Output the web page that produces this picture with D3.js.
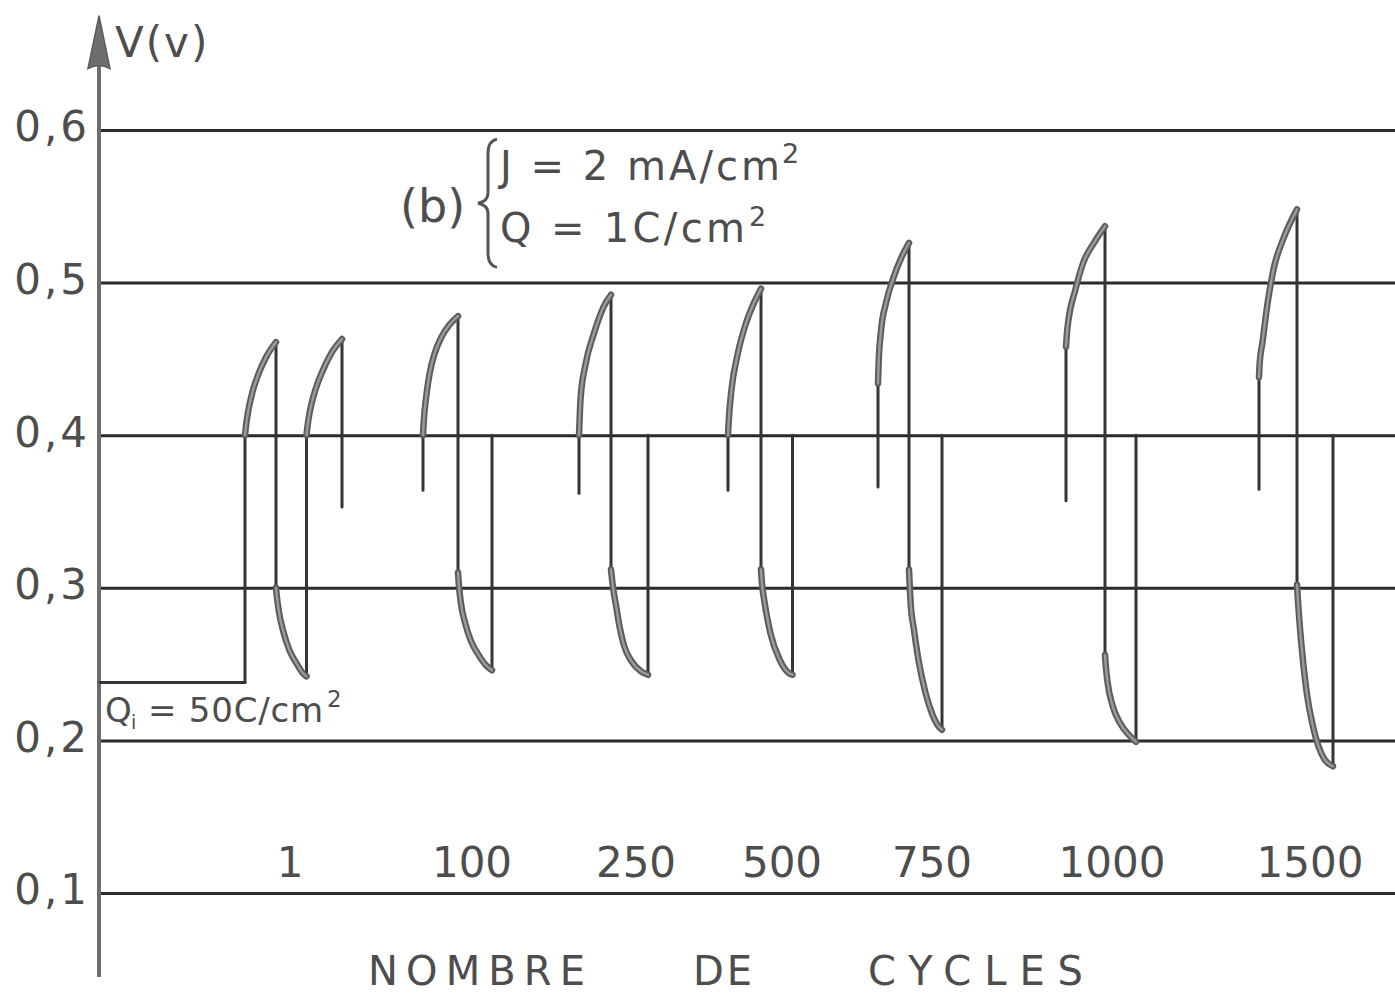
<!DOCTYPE html>
<html>
<head>
<meta charset="utf-8">
<script src="https://cdn.jsdelivr.net/npm/d3@7"></script>
<style>
  html, body { margin: 0; padding: 0; background: #ffffff; }
  svg { display: block; }
  text { font-family: "DejaVu Sans", "Noto Sans", sans-serif; fill: #4d4d4d; }
</style>
</head>
<body>
<svg id="chart" width="1395" height="995"></svg>
<script>
// ---- data -------------------------------------------------------------
const yTicks = [0.1, 0.2, 0.3, 0.4, 0.5, 0.6];
const yTickLabels = ["0,1", "0,2", "0,3", "0,4", "0,5", "0,6"];

const cycleLabels = ["1", "100", "250", "500", "750", "1000", "1500"];
const cycleLabelT = [38, 74.4, 107.2, 136.4, 166.4, 202.4, 242];

// Potential traces [time, V]; equal consecutive times are the vertical jumps
const traceCycle1 = [
  [0, 0.238], [29, 0.238], [29, 0.400],
  [29.2, 0.406], [29.6, 0.415], [30.55, 0.429], [31.8, 0.441], [33.35, 0.452], [35.2, 0.461],
  [35.2, 0.300],
  [35.38, 0.294], [35.8, 0.284], [36.7, 0.271], [37.9, 0.259], [39.4, 0.250], [40.6, 0.244], [41.3, 0.242],
  [41.3, 0.400],
  [41.5, 0.406], [42.0, 0.416], [43.1, 0.430], [44.5, 0.442], [46.3, 0.454], [48.4, 0.463],
  [48.4, 0.353]
];
const traceCycle100 = [
  [64.6, 0.364], [64.6, 0.400],
  [64.74, 0.4086], [65.26, 0.4257], [65.93, 0.4406], [66.91, 0.4534], [68.24, 0.464], [69.92, 0.4725], [71.6, 0.478],
  [71.6, 0.310],
  [71.74, 0.3033], [72.19, 0.2898], [73.08, 0.2763], [74.18, 0.2652], [75.68, 0.2562], [77.14, 0.2494], [78.4, 0.246],
  [78.4, 0.400]
];
const traceCycle250 = [
  [95.8, 0.362], [95.8, 0.400],
  [95.93, 0.411], [96.12, 0.4244], [97.12, 0.4466], [98.77, 0.4665], [100.74, 0.4843], [102.2, 0.492],
  [102.2, 0.312],
  [102.57, 0.301], [103.24, 0.2878], [103.9, 0.2747], [104.86, 0.2616], [106.27, 0.252], [108.26, 0.2451], [109.6, 0.243],
  [109.6, 0.400]
];
const traceCycle500 = [
  [125.6, 0.364], [125.6, 0.400],
  [125.73, 0.4086], [126.26, 0.4288], [127.51, 0.4528], [129.16, 0.473], [130.75, 0.4864], [132.2, 0.496],
  [132.2, 0.312],
  [132.39, 0.303], [132.82, 0.2923], [134.06, 0.2706], [135.92, 0.2529], [137.78, 0.2441], [138.5, 0.243],
  [138.5, 0.400]
];
const traceCycle750 = [
  [155.6, 0.366], [155.6, 0.434],
  [155.72, 0.4469], [156.22, 0.469], [157.18, 0.4864], [158.76, 0.5039], [160.34, 0.5168], [161.8, 0.526],
  [161.8, 0.312],
  [162.13, 0.290], [162.79, 0.2726], [163.78, 0.2511], [165.1, 0.2312], [166.42, 0.2175], [167.74, 0.2091], [168.4, 0.207],
  [168.4, 0.400]
];
const traceCycle1000 = [
  [193.2, 0.357], [193.2, 0.458],
  [193.36, 0.4659], [193.72, 0.4762], [195.02, 0.4947], [196.64, 0.513], [198.92, 0.5267], [201.0, 0.537],
  [201.0, 0.256],
  [201.12, 0.2503], [201.5, 0.2383], [202.55, 0.2224], [203.98, 0.2115], [205.78, 0.2036], [207.2, 0.199],
  [207.2, 0.400]
];
const traceCycle1500 = [
  [231.8, 0.3645], [231.8, 0.438],
  [231.95, 0.4479], [232.46, 0.460], [233.45, 0.485], [234.76, 0.5095], [236.74, 0.5293], [239.4, 0.548],
  [239.4, 0.302],
  [239.62, 0.2901], [240.25, 0.2639], [241.31, 0.232], [242.71, 0.2075], [244.84, 0.1879], [246.6, 0.183],
  [246.6, 0.400]
];
const traces = [traceCycle1, traceCycle100, traceCycle250, traceCycle500, traceCycle750, traceCycle1000, traceCycle1500];

// ---- scales -----------------------------------------------------------
const svg = d3.select("#chart");
const x = d3.scaleLinear().domain([0, 259]).range([100, 1395]);
const y = d3.scaleLinear().domain([0.1, 0.6]).range([893, 130]);
const axisExtent = [0.045, 0.675];

// ---- grid + tick labels ----------------------------------------------
const yAxis = d3.axisLeft(y)
  .tickValues(yTicks)
  .tickFormat((d, i) => yTickLabels[i])
  .tickSize(-(x(259) - x(0)))
  .tickPadding(10);

const gy = svg.append("g")
  .attr("transform", `translate(${x(0)},0)`)
  .call(yAxis);
gy.select(".domain").remove();
gy.selectAll(".tick line")
  .attr("stroke", "#2b2b2b")
  .attr("stroke-width", 3);
gy.selectAll(".tick text")
  .attr("fill", "#555")
  .attr("font-size", 42)
  .attr("letter-spacing", 3)
  .attr("dy", "0.26em")
  .style("font-family", '"DejaVu Sans", sans-serif');

// vertical axis with arrow head
svg.append("line")
  .attr("x1", x(0) - 1).attr("x2", x(0) - 1)
  .attr("y1", y(axisExtent[0])).attr("y2", y(axisExtent[1]) + 40)
  .attr("stroke", "#6e6e6e")
  .attr("stroke-width", 4);
const tipY = y(axisExtent[1]);
svg.append("path")
  .attr("d", `M${x(0) - 1},${tipY} L${x(0) - 12},${tipY + 53} Q${x(0) - 1},${tipY + 47} ${x(0) + 10},${tipY + 53} Z`)
  .attr("fill", "#6e6e6e")
  .attr("stroke", "#5a5a5a")
  .attr("stroke-width", 1.5);

svg.append("text")
  .attr("x", 115).attr("y", 57)
  .attr("font-size", 42)
  .attr("letter-spacing", 2)
  .text("V(v)");

// ---- traces -----------------------------------------------------------
function splitTrace(pts) {
  const out = [];
  let run = [pts[0]];
  for (let i = 1; i < pts.length; i++) {
    const p = pts[i], q = pts[i - 1];
    if (p[0] === q[0]) {
      if (run.length > 1) out.push({ kind: run.length > 2 ? "curve" : "line", pts: run });
      out.push({ kind: "line", pts: [q, p] });
      run = [p];
    } else {
      run.push(p);
    }
  }
  if (run.length > 1) out.push({ kind: run.length > 2 ? "curve" : "line", pts: run });
  return out;
}

const curveGen = d3.line().x(d => x(d[0])).y(d => y(d[1])).curve(d3.curveMonotoneX);
const lineGen = d3.line().x(d => x(d[0])).y(d => y(d[1]));

const pieces = traces.flatMap(splitTrace);
const gTr = svg.append("g").attr("fill", "none").attr("stroke-linecap", "round").attr("stroke-linejoin", "round");

gTr.selectAll("path.jump")
  .data(pieces.filter(p => p.kind === "line"))
  .join("path")
  .attr("class", "jump")
  .attr("d", p => lineGen(p.pts))
  .attr("stroke", "#353535")
  .attr("stroke-width", 3);

gTr.selectAll("path.arc-outer")
  .data(pieces.filter(p => p.kind === "curve"))
  .join("path")
  .attr("class", "arc-outer")
  .attr("d", p => curveGen(p.pts))
  .attr("stroke", "#5c5c5c")
  .attr("stroke-width", 6.5);
gTr.selectAll("path.arc-inner")
  .data(pieces.filter(p => p.kind === "curve"))
  .join("path")
  .attr("class", "arc-inner")
  .attr("d", p => curveGen(p.pts))
  .attr("stroke", "#9a9a9a")
  .attr("stroke-width", 2.5);

// ---- cycle labels -----------------------------------------------------
svg.append("g").selectAll("text")
  .data(cycleLabels)
  .join("text")
  .attr("x", (d, i) => x(cycleLabelT[i]))
  .attr("y", 877)
  .attr("text-anchor", "middle")
  .attr("font-size", 42)
  .text(d => d);

// x title
const titleWords = [
  { t: "NOMBRE", x0: 368, w: 217 },
  { t: "DE", x0: 693, w: 59 },
  { t: "CYCLES", x0: 868, w: 215 }
];
svg.append("g").selectAll("text")
  .data(titleWords)
  .join("text")
  .attr("x", d => d.x0)
  .attr("y", 985)
  .attr("font-size", 40)
  .attr("textLength", d => d.w)
  .attr("lengthAdjust", "spacing")
  .text(d => d.t);

// ---- annotations ------------------------------------------------------
svg.append("text")
  .attr("x", 400).attr("y", 222)
  .attr("font-size", 46)
  .text("(b)");

// brace
const bx = 488, bTop = y(0.594), bBot = y(0.510), bMid = (bTop + bBot) / 2;
svg.append("path")
  .attr("d", `M${bx + 9},${bTop} Q${bx},${bTop + 2} ${bx},${bTop + 14} L${bx},${bMid - 10} Q${bx},${bMid - 2} ${bx - 10},${bMid} Q${bx},${bMid + 2} ${bx},${bMid + 10} L${bx},${bBot - 14} Q${bx},${bBot - 2} ${bx + 9},${bBot}`)
  .attr("fill", "none")
  .attr("stroke", "#555")
  .attr("stroke-width", 3);

svg.append("text")
  .attr("x", 500).attr("y", 180)
  .attr("font-size", 40)
  .attr("textLength", 280)
  .attr("lengthAdjust", "spacing")
  .text("J = 2 mA/cm");
svg.append("text")
  .attr("x", 782).attr("y", 163)
  .attr("font-size", 27)
  .text("2");

svg.append("text")
  .attr("x", 500).attr("y", 242)
  .attr("font-size", 40)
  .attr("textLength", 245)
  .attr("lengthAdjust", "spacing")
  .text("Q = 1C/cm");
svg.append("text")
  .attr("x", 749).attr("y", 226)
  .attr("font-size", 27)
  .text("2");

// initial charge label
svg.append("text").attr("x", 105).attr("y", 722).attr("font-size", 34).text("Q");
svg.append("text").attr("x", 131).attr("y", 729).attr("font-size", 19).text("i");
svg.append("text")
  .attr("x", 148).attr("y", 722)
  .attr("font-size", 34)
  .attr("textLength", 175)
  .attr("lengthAdjust", "spacing")
  .text("= 50C/cm");
svg.append("text").attr("x", 327).attr("y", 707).attr("font-size", 23).text("2");
</script>
</body>
</html>
